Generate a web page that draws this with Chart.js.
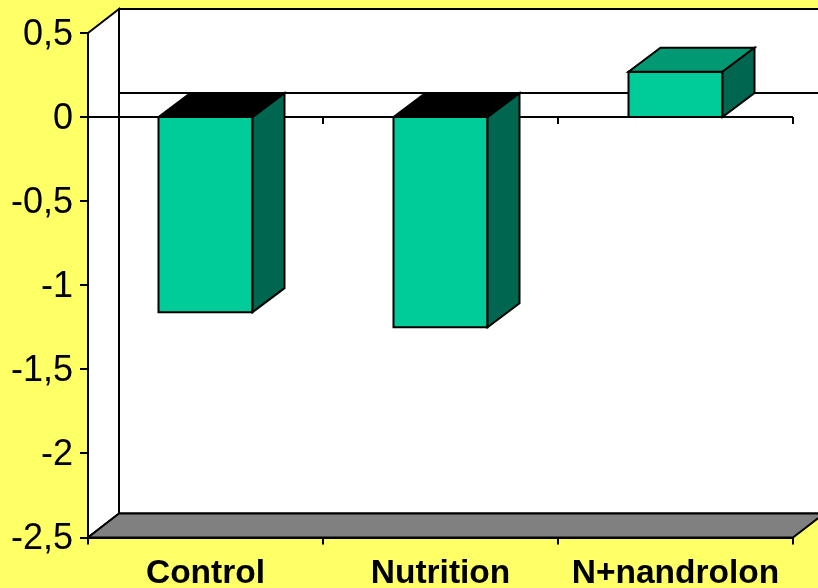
<!DOCTYPE html>
<html><head><meta charset="utf-8">
<script src="https://cdn.jsdelivr.net/npm/chart.js@4"></script>
<style>html,body{margin:0;padding:0;background:#FFFF66}canvas{display:block}</style>
</head><body><canvas id="c" width="818" height="588"></canvas>
<script>
const categories = ["Control", "Nutrition", "N+nandrolon"];
const values = [-1.16, -1.25, 0.27];
const yMin = -2.5;
const yMax = 0.5;
const yStep = 0.5;

const DX = 32, DY = 24, WALL_DX = 31;
const INK = "#000000";
function poly(ctx, pts, fill, lw) {
  ctx.beginPath();
  pts.forEach((p, i) => i ? ctx.lineTo(p[0], p[1]) : ctx.moveTo(p[0], p[1]));
  ctx.closePath();
  if (fill) { ctx.fillStyle = fill; ctx.fill(); }
  ctx.lineWidth = lw; ctx.lineJoin = "miter"; ctx.strokeStyle = INK; ctx.stroke();
}
function seg(ctx, x1, y1, x2, y2) {
  ctx.beginPath(); ctx.moveTo(x1, y1); ctx.lineTo(x2, y2);
  ctx.lineWidth = 2; ctx.strokeStyle = INK; ctx.stroke();
}
const box3d = {
  id: "box3d",
  beforeDraw(chart) {
    const { ctx, scales: { x, y } } = chart;
    const l = x.left, r = x.right, t = y.top, b = y.bottom, z = y.getPixelForValue(0);
    y.getLabelItems(chart.chartArea).forEach((item) => { item.textOffset += 2; });
    ctx.save();
    poly(ctx, [[l + WALL_DX, t - DY], [r + WALL_DX, t - DY], [r + WALL_DX, b - DY], [l + WALL_DX, b - DY]], "#FFFFFF", 2);
    poly(ctx, [[l, t], [l + WALL_DX, t - DY], [l + WALL_DX, b - DY], [l, b]], "#FFFFFF", 2);
    poly(ctx, [[l, b], [l + WALL_DX, b - DY], [r + WALL_DX, b - DY], [r, b]], "#808080", 2);
    seg(ctx, l + WALL_DX, z - DY, r + WALL_DX, z - DY);
    seg(ctx, l - 8, z, r, z);
    for (let i = 1; i <= categories.length; i++) {
      const px = l + i * (r - l) / categories.length;
      seg(ctx, px, z, px, z + 7);
    }
    ctx.restore();
  },
  afterDatasetsDraw(chart) {
    const { ctx } = chart;
    const z = chart.scales.y.getPixelForValue(0);
    ctx.save();
    chart.getDatasetMeta(0).data.forEach((bar) => {
      const hw = bar.width / 2, L = bar.x - hw, R = bar.x + hw;
      const top = Math.min(bar.y, z), bot = Math.max(bar.y, z);
      const up = bar.y < z;
      poly(ctx, [[L, top], [R, top], [R, bot], [L, bot]], null, 2);
      poly(ctx, [[L, top], [L + DX, top - DY], [R + DX, top - DY], [R, top]], up ? "#009973" : "#000000", 2);
      poly(ctx, [[R, top], [R + DX, top - DY], [R + DX, bot - DY], [R, bot]], "#006650", 2);
    });
    ctx.restore();
  }
};

new Chart(document.getElementById("c"), {
  type: "bar",
  data: {
    labels: categories,
    datasets: [{
      data: values,
      backgroundColor: "#00CC99",
      borderWidth: 0,
      barPercentage: 0.4,
      categoryPercentage: 1
    }]
  },
  options: {
    responsive: false,
    animation: false,
    events: [],
    layout: { padding: { top: 33, right: 25, bottom: 0, left: 0 } },
    plugins: { legend: { display: false }, tooltip: { enabled: false } },
    scales: {
      x: {
        grid: { drawOnChartArea: false, drawTicks: true, tickLength: 7, color: INK, lineWidth: 2 },
        border: { display: true, color: INK, width: 2 },
        ticks: { color: INK, padding: 9, maxRotation: 0, autoSkip: false, font: { family: "Liberation Sans", size: 33.5, weight: "bold" } },
        afterFit(s) { s.height = 50.5; }
      },
      y: {
        min: yMin, max: yMax,
        grid: { drawOnChartArea: false, drawTicks: true, tickLength: 8, color: INK, lineWidth: 2 },
        border: { display: true, color: INK, width: 2 },
        ticks: {
          stepSize: yStep, color: INK, padding: 7,
          font: { family: "Liberation Sans", size: 36 },
          callback: (v) => String(v).replace(".", ",")
        },
        afterFit(s) { s.width = 88; }
      }
    }
  },
  plugins: [box3d]
});
</script></body></html>
